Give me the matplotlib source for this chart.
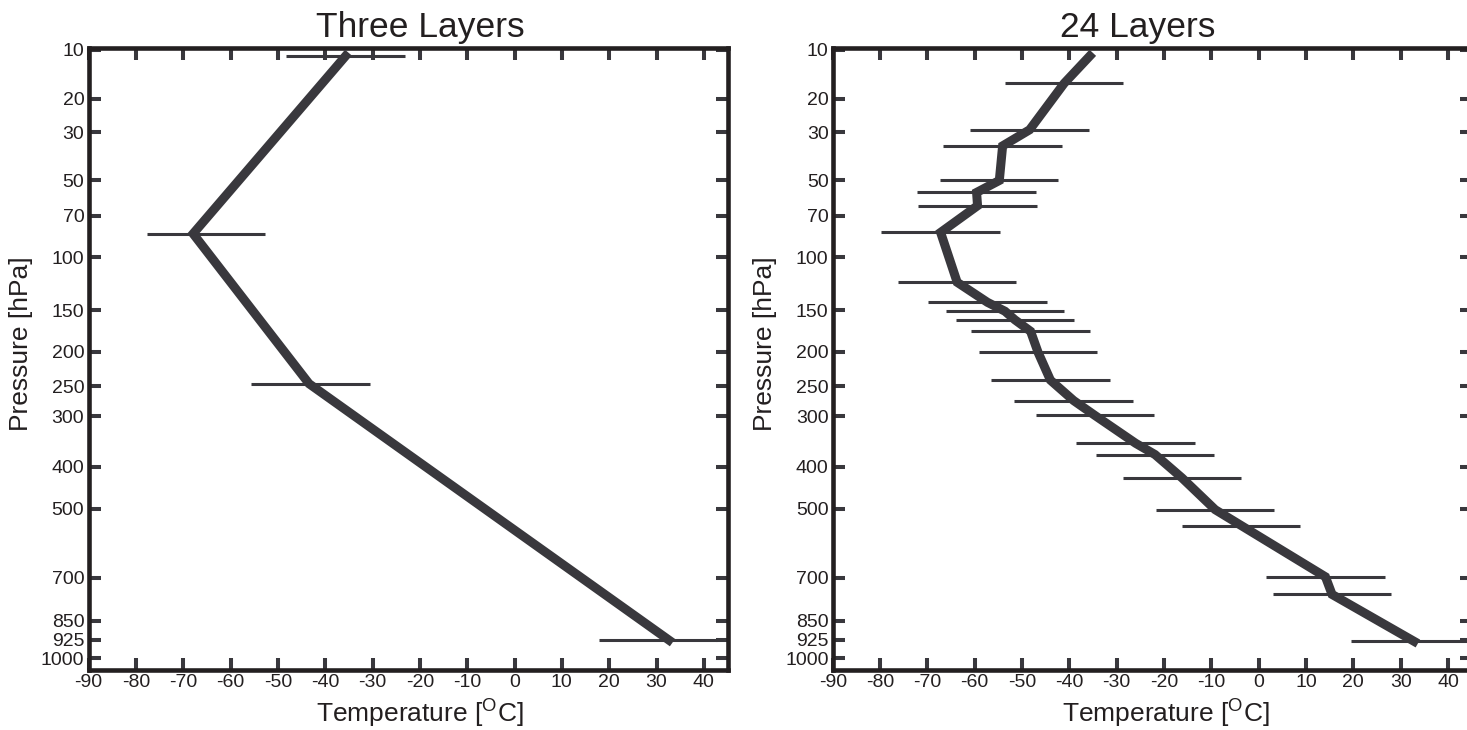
import numpy as np
import matplotlib
matplotlib.use("Agg")
import matplotlib.pyplot as plt
from matplotlib.ticker import FixedLocator, FixedFormatter

# profile (thick line) and layer error bars
# three layers
line3_p = [11, 82, 246, 925]
line3_T = [-35.7, -67.9, -43.4, 32.6]
err3_p = [11, 82, 246, 925]
err3_T = [-35.7, -65.2, -43.1, 30.3]

# 24 layers
line24_p = [11, 16.3, 29.2, 35.0, 50.2, 56.4, 63.9, 81.1, 121.7, 141.5, 151.0,
            160.6, 174.0, 201, 240.5, 273, 298.6, 351, 374, 425, 502, 544,
            697, 756, 930]
line24_T = [-35.7, -41.1, -48.4, -54.1, -54.8, -59.6, -59.4, -67.2, -63.7,
            -57.3, -53.6, -51.5, -48.2, -46.6, -44.0, -39.1, -34.6, -26.0,
            -21.9, -16.2, -9.2, -3.7, 14.1, 15.5, 32.8]
err24_p = line24_p[1:]
err24_T = line24_T[1:-1] + [32.1]
err_half = 12.5

p_ticks = [10, 20, 30, 50, 70, 100, 150, 200, 250, 300, 400, 500, 700, 850, 925, 1000]
t_ticks = list(range(-90, 50, 10))

K = 0.286
fwd = lambda p: np.sign(p) * np.abs(p) ** K
inv = lambda y: np.sign(y) * np.abs(y) ** (1 / K)

plt.rcParams["font.family"] = ["Liberation Sans", "DejaVu Sans"]
plt.rcParams["mathtext.fontset"] = "custom"
plt.rcParams["mathtext.rm"] = "Liberation Sans"
plt.rcParams["axes.unicode_minus"] = False

black = "#231f20"
grey = "#39383d"

fig = plt.figure(figsize=(14.67, 7.30), dpi=100)
ax1 = fig.add_axes([88.5 / 1467, 1 - 670 / 730, 639 / 1467, 622 / 730])
ax2 = fig.add_axes([832.7 / 1467, 1 - 670 / 730, 639 / 1467, 622 / 730])

panels = [(ax1, "Three Layers", line3_T, line3_p, err3_T, err3_p, 0.519, 0.519),
          (ax2, "24 Layers", line24_T, line24_p, err24_T, err24_p, 0.478, 0.522)]

for ax, title, lT, lp, eT, ep, tx, lx in panels:
    ax.errorbar(eT, ep, xerr=err_half, fmt="none", ecolor=grey, elinewidth=2.2,
                capsize=0, zorder=2)
    ax.plot(lT, lp, color=grey, lw=6.5, solid_joinstyle="miter", zorder=3)
    ax.set_yscale("function", functions=(fwd, inv))
    ax.set_ylim(1050, 9.7)
    ax.set_xlim(-90, 45)
    ax.yaxis.set_major_locator(FixedLocator(p_ticks))
    ax.yaxis.set_major_formatter(FixedFormatter([str(v) for v in p_ticks]))
    ax.yaxis.set_minor_locator(FixedLocator([]))
    ax.set_xticks(t_ticks)
    ax.tick_params(direction="in", length=8.5, width=2.9, color=grey,
                   top=True, right=True, labelsize=14, pad=3, labelcolor=black)
    for s in ax.spines.values():
        s.set_linewidth(3.3)
        s.set_color(black)
    ax.set_title(title, fontsize=25.5, color=black, pad=8, x=tx)
    ax.set_xlabel(r"Temperature [$^{\mathrm{O}}$C]", fontsize=19, color=black)
    ax.set_ylabel("Pressure [hPa]", fontsize=19, color=black)
    ax.xaxis.set_label_coords(lx, -0.042)
    ax.yaxis.set_label_coords(-0.087, 0.525)

fig.savefig("out.png", dpi=100)
